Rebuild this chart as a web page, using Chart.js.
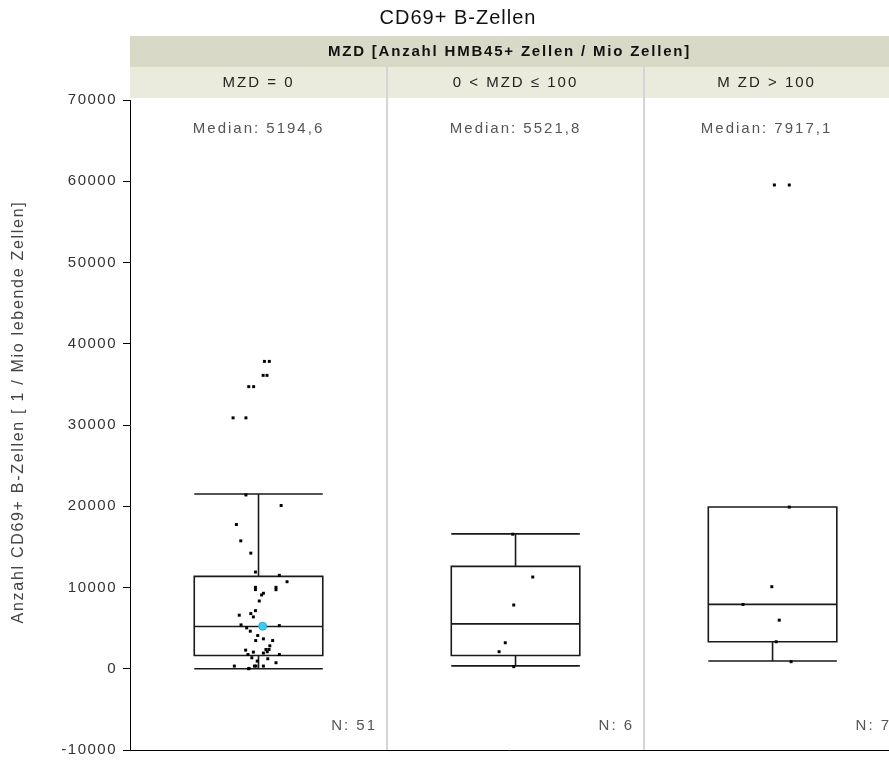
<!DOCTYPE html>
<html>
<head>
<meta charset="utf-8">
<title>CD69+ B-Zellen</title>
<script src="https://cdn.jsdelivr.net/npm/chart.js@4.4.1/dist/chart.umd.min.js"></script>
<style>
  html, body { margin: 0; padding: 0; background: #fff; }
  #wrap { width: 889px; height: 765px; }
</style>
</head>
<body>
<div id="wrap"><canvas id="grafico"></canvas></div>
<script>
// Gruppen und Boxplot-Kennzahlen
const gruppen = ["MZD = 0", "0 < MZD ≤ 100", "M ZD > 100"];
const anzahl = [51, 6, 7];
const median = [5194.6, 5521.8, 7917.1];
const quartilUnten = [1640, 1640, 3320];
const quartilOben = [11370, 12600, 19900];
const whiskerUnten = [0, 350, 950];
const whiskerOben = [21500, 16600, 19900];

// Einzelwerte je Gruppe, mit seitlichem Versatz (in Panelbreiten)
const werte0 = [37830, 37830, 36110, 36110, 34720, 34720, 30880, 30880, 21390, 20090,
  17750, 15740, 14230, 11900, 11500, 10710, 10020, 9740, 10020, 9730,
  9290, 9080, 8340, 7150, 6590, 6790, 6380, 5400, 5310, 5030,
  4620, 4090, 3470, 3680, 3470, 2820, 2370, 2370, 2090, 2290,
  2050, 1930, 1750, 1750, 1230, 940, 740, 1350, 330, 40,
  330, 330, 330, 0];
const versatz0 = [0.023, 0.042, 0.018, 0.033, -0.038, -0.019, -0.099, -0.049, -0.049, 0.088,
  -0.086, -0.069, -0.030, -0.012, 0.081, 0.111, -0.012, -0.012, 0.068, 0.068,
  0.019, 0.012, 0.003, -0.012, -0.075, -0.030, -0.020, -0.068, 0.081, -0.046,
  -0.032, -0.003, -0.011, 0.019, 0.055, 0.044, 0.029, 0.041, 0.034, -0.050,
  -0.020, 0.019, 0.081, -0.041, 0.036, -0.005, 0.068, -0.026, -0.094, -0.037,
  -0.016, -0.010, 0.019, -0.038];
const werte1 = [16560, 11290, 7844, 3200, 2100, 260];
const versatz1 = [-0.011, 0.067, -0.007, -0.040, -0.064, -0.007];
const werte2 = [59540, 59540, 19900, 10100, 7917.1, 5980, 3320, 870];
const versatz2 = [0.007, 0.065, 0.065, -0.003, -0.115, 0.026, 0.014, 0.072];

// hervorgehobener Patient
const markiertWert = [5240];
const markiertVersatz = [0.016];

const yTicks = [-10000, 0, 10000, 20000, 30000, 40000, 50000, 60000, 70000];

const schrift = "'Liberation Sans', Arial, sans-serif";
const halbeBox = 0.25;

function punkte(gruppe, werte, versatz) {
    return werte.map((w, i) => ({ x: gruppe + 0.5 + versatz[i], y: w }));
}

const alleWerte = [
    ...punkte(0, werte0, versatz0),
    ...punkte(1, werte1, versatz1),
    ...punkte(2, werte2, versatz2)
];

const panelPlugin = {
    id: "panels",
    beforeDraw(chart) {
        const { ctx, chartArea: a, scales: { x } } = chart;
        ctx.save();
        // Kopfzeilen
        ctx.fillStyle = "#d9d9c7";
        ctx.fillRect(a.left, 36, a.right - a.left, 31);
        ctx.fillStyle = "#eaeadd";
        ctx.fillRect(a.left, 67, a.right - a.left, 31);

        // Trennlinien zwischen den Panels
        ctx.strokeStyle = "#d4d4d4";
        ctx.lineWidth = 2;
        for (let i = 1; i < gruppen.length; i++) {
            const px = x.getPixelForValue(i);
            ctx.beginPath();
            ctx.moveTo(px, 67);
            ctx.lineTo(px, a.bottom);
            ctx.stroke();
        }
        ctx.restore();
        ctx.letterSpacing = "1.5px";
    },
    beforeDatasetsDraw(chart) {
        const { ctx, scales: { x, y } } = chart;
        ctx.save();
        ctx.strokeStyle = "#1a1a1a";
        ctx.lineWidth = 1.6;
        gruppen.forEach((g, i) => {
            const cx = x.getPixelForValue(i + 0.5);
            const l = x.getPixelForValue(i + 0.5 - halbeBox);
            const r = x.getPixelForValue(i + 0.5 + halbeBox);
            const yq1 = y.getPixelForValue(quartilUnten[i]);
            const yq3 = y.getPixelForValue(quartilOben[i]);
            const ym = y.getPixelForValue(median[i]);
            const ywl = y.getPixelForValue(whiskerUnten[i]);
            const ywh = y.getPixelForValue(whiskerOben[i]);
            ctx.beginPath();
            ctx.rect(l, yq3, r - l, yq1 - yq3);
            ctx.moveTo(l, ym); ctx.lineTo(r, ym);
            if (whiskerOben[i] > quartilOben[i]) {
                ctx.moveTo(cx, yq3); ctx.lineTo(cx, ywh);
                ctx.moveTo(l, ywh); ctx.lineTo(r, ywh);
            }
            if (whiskerUnten[i] < quartilUnten[i]) {
                ctx.moveTo(cx, yq1); ctx.lineTo(cx, ywl);
                ctx.moveTo(l, ywl); ctx.lineTo(r, ywl);
            }
            ctx.stroke();
        });
        ctx.restore();
    },
    afterDraw(chart) {
        const { ctx, chartArea: a, scales: { x } } = chart;
        ctx.save();
        // x-Achsenlinie
        ctx.strokeStyle = "#000";
        ctx.lineWidth = 1;
        ctx.beginPath();
        ctx.moveTo(a.left, a.bottom + 0.5);
        ctx.lineTo(a.right, a.bottom + 0.5);
        ctx.stroke();

        ctx.textBaseline = "middle";
        // Titel
        ctx.fillStyle = "#111";
        ctx.textAlign = "center";
        ctx.letterSpacing = "1px";
        ctx.font = "20px " + schrift;
        ctx.fillText("CD69+ B-Zellen", 458, 18);
        ctx.font = "bold 15px " + schrift;
        ctx.letterSpacing = "1.8px";
        ctx.fillText("MZD [Anzahl HMB45+ Zellen / Mio Zellen]", (a.left + a.right) / 2, 52);

        gruppen.forEach((g, i) => {
            const l = x.getPixelForValue(i);
            const r = Math.min(x.getPixelForValue(i + 1), a.right);
            const mitte = (l + r) / 2;
            ctx.font = "15px " + schrift;
            ctx.letterSpacing = "2px";
            ctx.fillStyle = "#222";
            ctx.textAlign = "center";
            ctx.fillText(g, mitte, 83);
            ctx.fillStyle = "#555";
            ctx.fillText("Median: " + median[i].toFixed(1).replace(".", ","), mitte, a.top + 29);
            ctx.textAlign = "right";
            ctx.fillText("N: " + anzahl[i], x.getPixelForValue(i + 1) - 10, a.bottom - 24);
        });

        // y-Achsentitel
        ctx.translate(19, 412);
        ctx.rotate(-Math.PI / 2);
        ctx.textAlign = "center";
        ctx.fillStyle = "#444";
        ctx.font = "16px " + schrift;
        ctx.letterSpacing = "1.7px";
        ctx.fillText("Anzahl CD69+ B-Zellen [ 1 / Mio lebende Zellen]", 0, 0);
        ctx.restore();
    }
};

new Chart(document.getElementById("grafico"), {
    type: "scatter",
    data: {
        datasets: [
            {
                label: "Markiert",
                data: punkte(0, markiertWert, markiertVersatz),
                pointStyle: "circle",
                pointRadius: 4,
                backgroundColor: "#3fcbef",
                borderColor: "#2ba9d2",
                borderWidth: 1
            },
            {
                label: "Werte",
                data: alleWerte,
                pointStyle: "rect",
                pointRadius: 2.1,
                backgroundColor: "#000",
                borderColor: "#000",
                borderWidth: 0
            }
        ]
    },
    options: {
        responsive: true,
        maintainAspectRatio: false,
        animation: false,
        layout: { autoPadding: false, padding: { top: 100, bottom: 12, left: 0, right: 0 } },
        plugins: {
            legend: { display: false },
            tooltip: { enabled: false }
        },
        scales: {
            x: {
                type: "linear",
                min: 0,
                max: 2.953,
                display: false
            },
            y: {
                min: -10000,
                max: 70000,
                afterFit: s => { s.width = 130; },
                afterBuildTicks: s => { s.ticks = yTicks.map(v => ({ value: v })); },
                ticks: {
                    color: "#333",
                    padding: 6,
                    font: { family: schrift, size: 15 },
                    callback: v => String(v)
                },
                grid: {
                    drawOnChartArea: false,
                    drawTicks: true,
                    tickLength: 7,
                    color: "#000"
                },
                border: { display: true, color: "#000", width: 1 }
            }
        }
    },
    plugins: [panelPlugin]
});
</script>
</body>
</html>
